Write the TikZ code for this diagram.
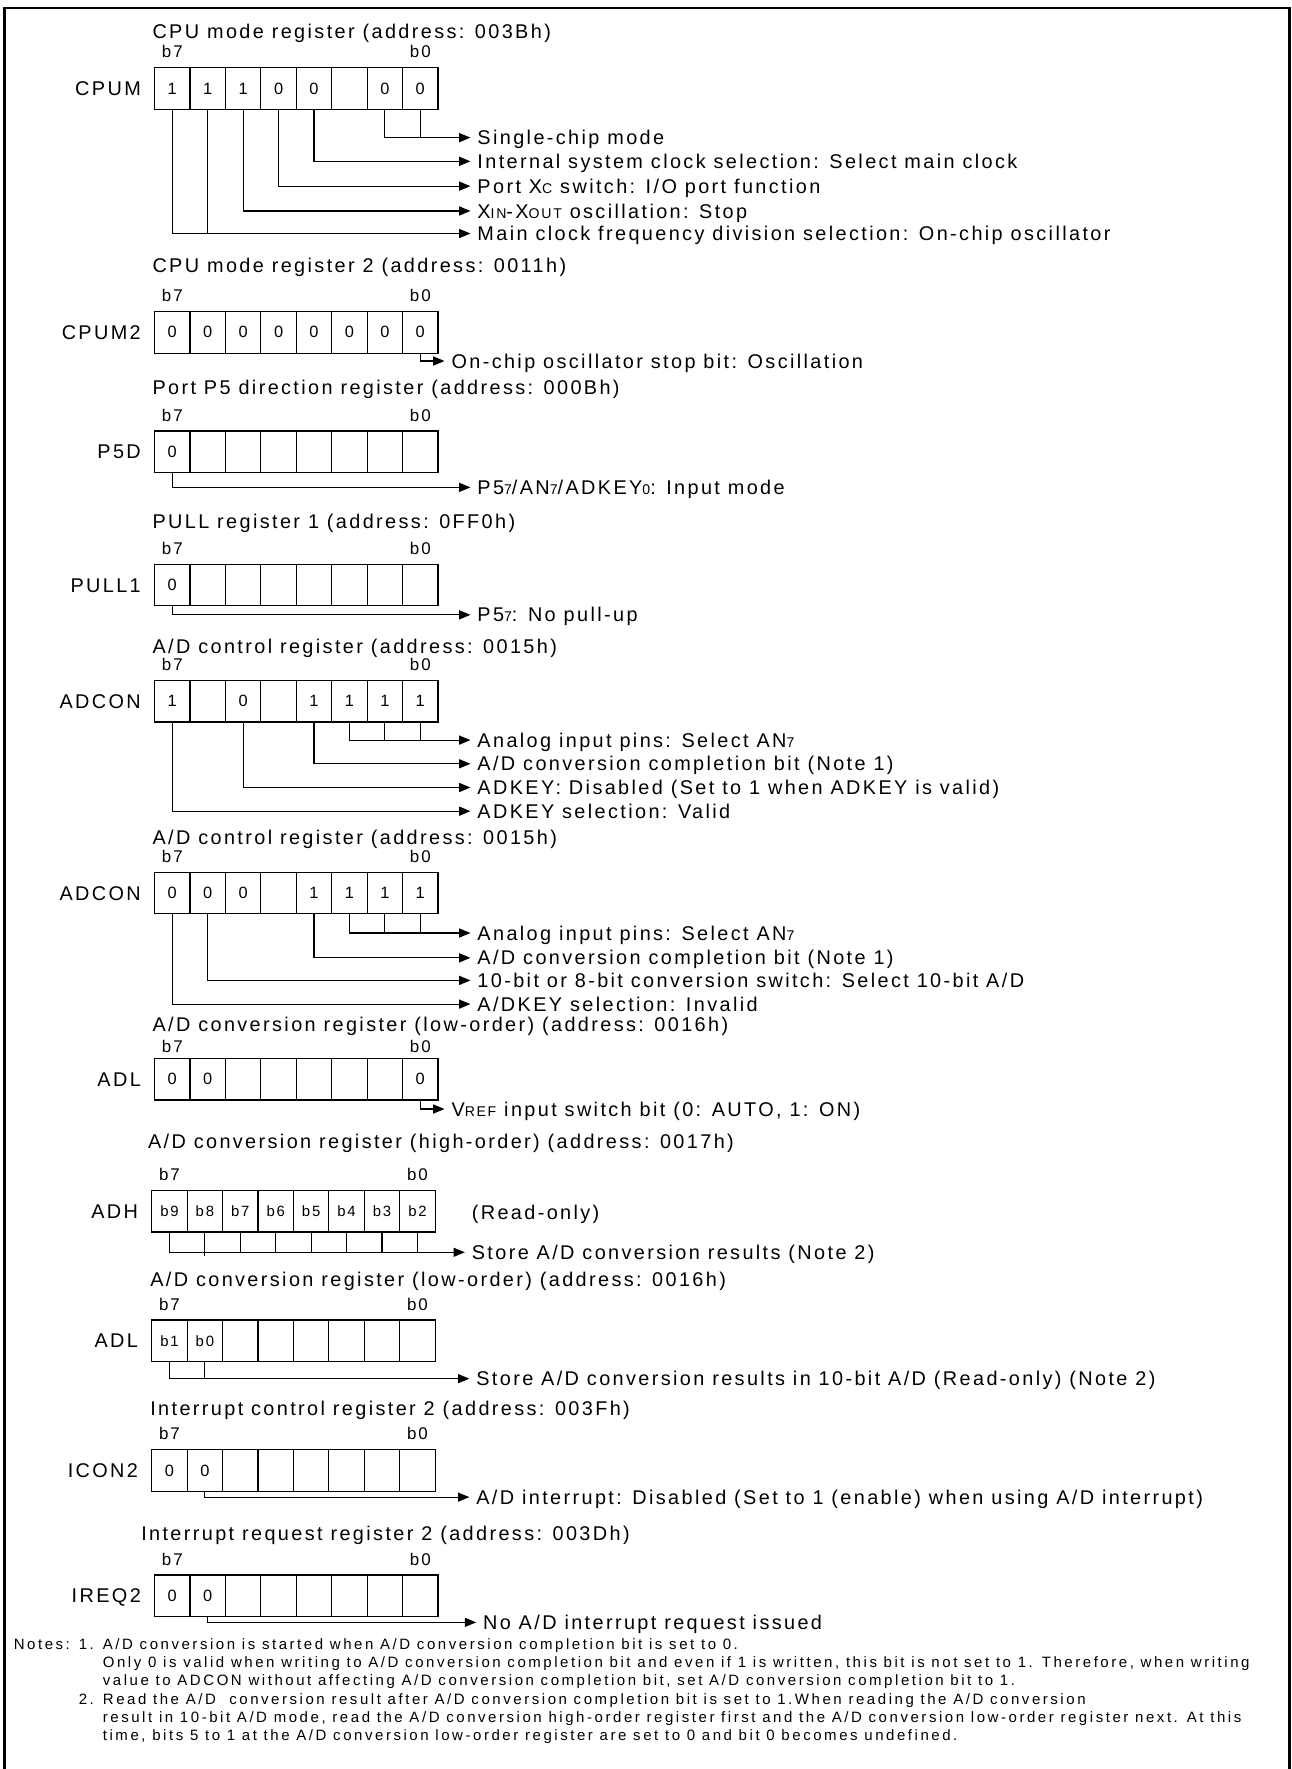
\documentclass[tikz,border=0pt]{standalone}
\usepackage{fontspec}
\setmainfont{Liberation Sans}
\newfontfamily\regsans{Liberation Sans}[LetterSpace=12]
\newfontfamily\notesans{Liberation Sans}[LetterSpace=17]
\usetikzlibrary{arrows.meta,positioning}

\newcommand\txtfont{\regsans\fontsize{17.6}{21}\selectfont}
\newcommand\bitfont{\regsans\fontsize{15}{17}\selectfont}
\newcommand\cellfont{\regsans\fontsize{14.5}{16}\selectfont}
\newcommand\smcellfont{\regsans\fontsize{13.2}{15}\selectfont}
\newcommand\notefont{\notesans\fontsize{13.3}{16}\selectfont}
\newcommand\sm[1]{{\fontsize{12.5}{12.5}\selectfont #1}}

\tikzset{
  cell/.style={draw, line width=1pt, minimum width=31.4pt, minimum height=37pt, inner sep=0pt, font=\cellfont},
  regname/.style={anchor=east, inner sep=0pt, text height=12.5pt, text depth=0pt, font=\txtfont},
  regtitle/.style={anchor=west, inner sep=0pt, text height=12.5pt, text depth=0pt, font=\txtfont},
  bitno/.style={inner sep=0pt, text height=10.5pt, text depth=0pt, font=\bitfont},
  desc/.style={anchor=west, inner xsep=6pt, inner ysep=0pt, text height=12.5pt, text depth=0pt, font=\txtfont},
  notes/.style={anchor=north west, inner sep=0pt, font=\notefont},
  lead/.style={line width=1pt},
  leadarrow/.style={lead, -{Triangle[length=10pt,width=8pt]}},
}

% [#1 gap of b7/b0] #2 prefix, #3 left x, #4 top y, #5 label, #6 bit values (b7 first)
\newcommand\register[6][14]{%
  \foreach \v [count=\i from 0] in {#6}
    \node[cell] (#2\i) at ({#3+15.7+31.4*\i},{#4+18.5}) {\v};
  \node[regname] (#2name) at ({#3-12},{#4+18.5}) {#5};
  \node[bitno] (#2b7) at ({#3+15.7},{#4-#1}) {b7};
  \node[bitno] (#2b0) at ({#3+235.5},{#4-#1}) {b0};
}

\begin{document}
\begin{tikzpicture}[x=1pt,y=-1pt]
\useasboundingbox (0,0) rectangle (1145,1568);
\draw[line width=2.2pt] (4,1580) -- (4,7) -- (1143,7) -- (1143,1580);

% CPU mode register
\node[regtitle] (tcpum) at (135,28) {CPU mode register (address: 003Bh)};
\register{cpum}{137}{60}{CPUM}{1,1,1,0,0,{},0,0}
\node[desc] (dcpum1) at (417,122) {Single-chip mode};
\node[desc] (dcpum2) at (417,143) {Internal system clock selection: Select main clock};
\node[desc] (dcpum3) at (417,165) {Port X\sm{C} switch: I/O port function};
\node[desc] (dcpum4) at (417,187) {X\sm{IN}-X\sm{OUT} oscillation: Stop};
\node[desc] (dcpum5) at (417,207) {Main clock frequency division selection: On-chip oscillator};
\draw[leadarrow] (cpum6.south) |- (dcpum1.west);
\draw[lead] (cpum7.south) -- (cpum7.south |- dcpum1.west);
\draw[leadarrow] (cpum4.south) |- (dcpum2.west);
\draw[leadarrow] (cpum3.south) |- (dcpum3.west);
\draw[leadarrow] (cpum2.south) |- (dcpum4.west);
\draw[leadarrow] (cpum0.south) |- (dcpum5.west);
\draw[lead] (cpum1.south) -- (cpum1.south |- dcpum5.west);

% CPU mode register 2
\node[regtitle] (tcpumtwo) at (135,235) {CPU mode register 2 (address: 0011h)};
\register{cpumtwo}{137}{276}{CPUM2}{0,0,0,0,0,0,0,0}
\node[desc] (dcpumtwo) at (394,320) {On-chip oscillator stop bit: Oscillation};
\draw[leadarrow] (cpumtwo7.south) |- (dcpumtwo.west);

% port P5 direction register
\node[regtitle] (tpd) at (135,343) {Port P5 direction register (address: 000Bh)};
\register{pd}{137}{382}{P5D}{0,{},{},{},{},{},{},{}}
\node[desc] (dpd) at (417,432) {P5\sm{7}/AN\sm{7}/ADKEY\sm{0}: Input mode};
\draw[leadarrow] (pd0.south) |- (dpd.west);

% PULL register 1
\node[regtitle] (tpull) at (135,462) {PULL register 1 (address: 0FF0h)};
\register{pull}{137}{500}{PULL1}{0,{},{},{},{},{},{},{}}
\node[desc] (dpull) at (417,545) {P5\sm{7}: No pull-up};
\draw[leadarrow] (pull0.south) |- (dpull.west);

% A/D control register, first setting
\node[regtitle] (tadca) at (135,573) {A/D control register (address: 0015h)};
\register{adca}{137}{603}{ADCON}{1,{},0,{},1,1,1,1}
\node[desc] (dadca1) at (417,656) {Analog input pins: Select AN\sm{7}};
\node[desc] (dadca2) at (417,677) {A/D conversion completion bit (Note 1)};
\node[desc] (dadca3) at (417,698) {ADKEY: Disabled (Set to 1 when ADKEY is valid)};
\node[desc] (dadca4) at (417,719) {ADKEY selection: Valid};
\draw[leadarrow] (adca5.south) |- (dadca1.west);
\draw[lead] (adca6.south) -- (adca6.south |- dadca1.west);
\draw[lead] (adca7.south) -- (adca7.south |- dadca1.west);
\draw[leadarrow] (adca4.south) |- (dadca2.west);
\draw[leadarrow] (adca2.south) |- (dadca3.west);
\draw[leadarrow] (adca0.south) |- (dadca4.west);

% A/D control register, second setting
\node[regtitle] (tadcb) at (135,742) {A/D control register (address: 0015h)};
\register{adcb}{137}{773}{ADCON}{0,0,0,{},1,1,1,1}
\node[desc] (dadcb1) at (417,827) {Analog input pins: Select AN\sm{7}};
\node[desc] (dadcb2) at (417,849) {A/D conversion completion bit (Note 1)};
\node[desc] (dadcb3) at (417,869) {10-bit or 8-bit conversion switch: Select 10-bit A/D};
\node[desc] (dadcb4) at (417,890) {A/DKEY selection: Invalid};
\draw[leadarrow] (adcb5.south) |- (dadcb1.west);
\draw[lead] (adcb6.south) -- (adcb6.south |- dadcb1.west);
\draw[lead] (adcb7.south) -- (adcb7.south |- dadcb1.west);
\draw[leadarrow] (adcb4.south) |- (dadcb2.west);
\draw[leadarrow] (adcb1.south) |- (dadcb3.west);
\draw[leadarrow] (adcb0.south) |- (dadcb4.west);

% A/D conversion register (low-order)
\node[regtitle] (tadla) at (135,908) {A/D conversion register (low-order) (address: 0016h)};
\register[10]{adla}{137}{938}{ADL}{0,0,{},{},{},{},{},0}
\node[desc] (dadla) at (394,983) {V\sm{REF} input switch bit (0: AUTO, 1: ON)};
\draw[leadarrow] (adla7.south) |- (dadla.west);

% A/D conversion register (high-order)
\node[regtitle] (tadh) at (131,1012) {A/D conversion register (high-order) (address: 0017h)};
\begin{scope}[cell/.append style={font=\smcellfont}]
\register{adh}{134.5}{1055}{ADH}{b9,b8,b7,b6,b5,b4,b3,b2}
\register{adlb}{134.5}{1170}{ADL}{b1,b0,{},{},{},{},{},{}}
\end{scope}
\node[desc] (radh) at (412,1075) {(Read-only)};
\node[desc] (dadh) at (412,1110) {Store A/D conversion results (Note 2)};
\draw[leadarrow] (adh0.south) |- (dadh.west);
\draw[lead] (adh1.south) -- ([yshift=-3pt]adh1.south |- dadh.west);
\foreach \i in {2,...,7}
  \draw[lead] (adh\i.south) -- (adh\i.south |- dadh.west);

% A/D conversion register (low-order), 10-bit mode
\node[regtitle] (tadlb) at (133,1134) {A/D conversion register (low-order) (address: 0016h)};
\node[desc] (dadlb) at (416,1222) {Store A/D conversion results in 10-bit A/D (Read-only) (Note 2)};
\draw[leadarrow] (adlb0.south) |- (dadlb.west);
\draw[lead] (adlb1.south) -- (adlb1.south |- dadlb.west);

% interrupt control register 2
\node[regtitle] (ticon) at (133,1248) {Interrupt control register 2 (address: 003Fh)};
\register{icon}{134.5}{1285}{ICON2}{0,0,{},{},{},{},{},{}}
\node[desc] (dicon) at (416,1327) {A/D interrupt: Disabled (Set to 1 (enable) when using A/D interrupt)};
\draw[leadarrow] (icon1.south) |- (dicon.west);

% interrupt request register 2
\node[regtitle] (tireq) at (125,1359) {Interrupt request register 2 (address: 003Dh)};
\register{ireq}{137}{1396}{IREQ2}{0,0,{},{},{},{},{},{}}
\node[desc] (direq) at (422,1438) {No A/D interrupt request issued};
\draw[leadarrow] (ireq1.south) |- (direq.west);

% notes
\node[notes] (notes) at (12,1451) {%
  \begin{tabular}{@{}l@{ }l@{ }l@{}}
  Notes: & 1. & A/D conversion is started when A/D conversion completion bit is set to 0.\\
   & & Only 0 is valid when writing to A/D conversion completion bit and even if 1 is written, this bit is not set to 1. Therefore, when writing\\
   & & value to ADCON without affecting A/D conversion completion bit, set A/D conversion completion bit to 1.\\
   & 2. & Read the A/D\ \ conversion result after A/D conversion completion bit is set to 1.When reading the A/D conversion\\
   & & result in 10-bit A/D mode, read the A/D conversion high-order register first and the A/D conversion low-order register next. At this\\
   & & time, bits 5 to 1 at the A/D conversion low-order register are set to 0 and bit 0 becomes undefined.
  \end{tabular}};
\end{tikzpicture}
\end{document}
